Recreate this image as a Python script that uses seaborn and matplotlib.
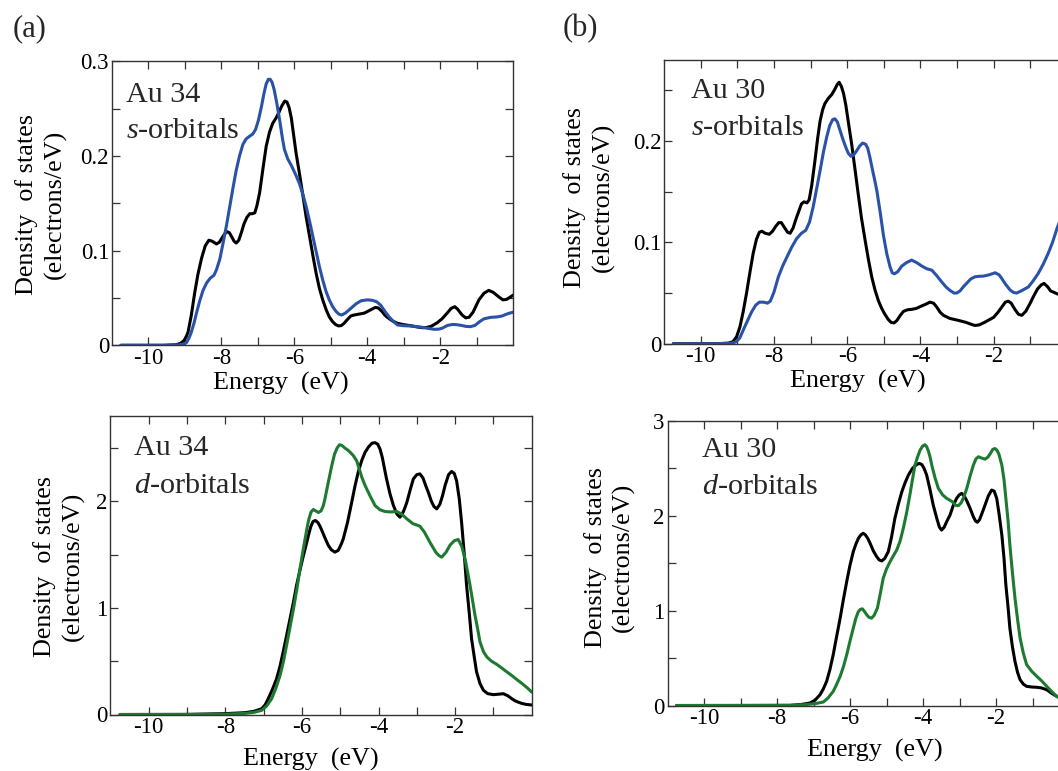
import matplotlib
matplotlib.use("Agg")
import matplotlib.pyplot as plt
import seaborn as sns

# Each series is a list of (energy in eV, density of states in electrons/eV)

# ---- Au 34, s-orbitals ----
au34_s_black = [
    (-10.75, 0), (-9.6, 0), (-9.25, 0.0005), (-9.12, 0.002), (-9.02, 0.005), (-8.95, 0.010), (-8.91, 0.014),
    (-8.82, 0.032), (-8.73, 0.055), (-8.64, 0.075), (-8.54, 0.092), (-8.44, 0.105), (-8.34, 0.111),
    (-8.25, 0.110), (-8.13, 0.107), (-8.05, 0.109), (-7.97, 0.114), (-7.90, 0.118), (-7.84, 0.120),
    (-7.78, 0.119), (-7.72, 0.115), (-7.65, 0.110), (-7.59, 0.108), (-7.52, 0.111), (-7.45, 0.119),
    (-7.38, 0.128), (-7.30, 0.135), (-7.22, 0.139), (-7.15, 0.139), (-7.08, 0.140), (-7.02, 0.148),
    (-6.95, 0.161), (-6.86, 0.186), (-6.77, 0.210), (-6.68, 0.225), (-6.59, 0.2345), (-6.50, 0.240),
    (-6.42, 0.246), (-6.34, 0.253), (-6.26, 0.258), (-6.20, 0.257), (-6.14, 0.251), (-6.08, 0.240),
    (-6.02, 0.223), (-5.95, 0.203), (-5.86, 0.182), (-5.77, 0.160), (-5.68, 0.137), (-5.58, 0.115),
    (-5.49, 0.095), (-5.40, 0.076), (-5.31, 0.060), (-5.22, 0.048), (-5.13, 0.038), (-5.04, 0.030),
    (-4.95, 0.025), (-4.87, 0.022), (-4.79, 0.0205), (-4.72, 0.0207), (-4.64, 0.023), (-4.55, 0.027),
    (-4.45, 0.031), (-4.36, 0.032), (-4.22, 0.033), (-4.08, 0.034), (-3.98, 0.036), (-3.88, 0.038),
    (-3.78, 0.040), (-3.70, 0.0395), (-3.60, 0.036), (-3.52, 0.032), (-3.45, 0.0296), (-3.32, 0.026),
    (-3.17, 0.0232), (-3.00, 0.0218), (-2.81, 0.0207), (-2.65, 0.0195), (-2.49, 0.0186), (-2.38, 0.0188),
    (-2.25, 0.020), (-2.08, 0.0239), (-1.95, 0.028), (-1.81, 0.034), (-1.70, 0.039), (-1.60, 0.0408),
    (-1.52, 0.038), (-1.40, 0.032), (-1.30, 0.029), (-1.21, 0.0296), (-1.10, 0.035), (-0.94, 0.048),
    (-0.80, 0.055), (-0.67, 0.058), (-0.55, 0.056), (-0.39, 0.051), (-0.28, 0.048), (-0.18, 0.0485),
    (-0.08, 0.051), (0.0, 0.053),
]
au34_s_blue = [
    (-10.75, 0), (-9.6, 0), (-9.15, 0.0005), (-9.03, 0.0015), (-8.95, 0.003), (-8.88, 0.008), (-8.82, 0.014),
    (-8.75, 0.023), (-8.68, 0.034), (-8.59, 0.047), (-8.50, 0.058), (-8.40, 0.066), (-8.30, 0.071),
    (-8.20, 0.074), (-8.13, 0.080), (-8.04, 0.091), (-7.95, 0.108), (-7.86, 0.126), (-7.77, 0.146),
    (-7.68, 0.166), (-7.59, 0.185), (-7.50, 0.200), (-7.41, 0.212), (-7.32, 0.218), (-7.22, 0.221),
    (-7.14, 0.223), (-7.06, 0.228), (-6.98, 0.238), (-6.90, 0.252), (-6.83, 0.266), (-6.77, 0.276),
    (-6.71, 0.281), (-6.66, 0.281), (-6.61, 0.278), (-6.55, 0.270), (-6.48, 0.256), (-6.40, 0.238),
    (-6.33, 0.220), (-6.27, 0.207), (-6.18, 0.197), (-6.08, 0.190), (-5.97, 0.181), (-5.86, 0.171),
    (-5.76, 0.159), (-5.67, 0.146), (-5.58, 0.131), (-5.49, 0.115), (-5.40, 0.099), (-5.31, 0.083),
    (-5.22, 0.069), (-5.13, 0.057), (-5.04, 0.048), (-4.95, 0.041), (-4.86, 0.036), (-4.78, 0.033),
    (-4.70, 0.032), (-4.60, 0.034), (-4.45, 0.039), (-4.30, 0.044), (-4.17, 0.047), (-4.00, 0.048),
    (-3.86, 0.0475), (-3.74, 0.046), (-3.63, 0.0423), (-3.50, 0.035), (-3.40, 0.030), (-3.28, 0.025),
    (-3.17, 0.0215), (-3.00, 0.0207), (-2.81, 0.0204), (-2.65, 0.0198), (-2.49, 0.0190), (-2.32, 0.0178),
    (-2.17, 0.0169), (-2.05, 0.017), (-1.95, 0.018), (-1.80, 0.021), (-1.67, 0.022), (-1.55, 0.0218),
    (-1.42, 0.021), (-1.30, 0.020), (-1.17, 0.0197), (-1.05, 0.021), (-0.92, 0.025), (-0.80, 0.028),
    (-0.62, 0.0295), (-0.44, 0.030), (-0.30, 0.031), (-0.21, 0.0325), (-0.10, 0.034), (0.0, 0.035),
]

# ---- Au 30, s-orbitals ----
au30_s_black = [
    (-10.75, 0), (-9.6, 0), (-9.25, 0.0005), (-9.12, 0.002), (-9.02, 0.007), (-8.93, 0.0167), (-8.84, 0.032),
    (-8.75, 0.050), (-8.66, 0.070), (-8.57, 0.089), (-8.48, 0.103), (-8.40, 0.110), (-8.33, 0.111),
    (-8.24, 0.109), (-8.13, 0.108), (-8.04, 0.111), (-7.95, 0.116), (-7.87, 0.1195), (-7.80, 0.1195),
    (-7.72, 0.115), (-7.63, 0.110), (-7.56, 0.109), (-7.48, 0.114), (-7.40, 0.123), (-7.32, 0.131),
    (-7.25, 0.138), (-7.18, 0.140), (-7.10, 0.139), (-7.04, 0.142), (-6.97, 0.156), (-6.88, 0.181),
    (-6.81, 0.202), (-6.74, 0.220), (-6.67, 0.231), (-6.61, 0.237), (-6.52, 0.242), (-6.42, 0.246),
    (-6.34, 0.251), (-6.27, 0.256), (-6.22, 0.258), (-6.16, 0.254), (-6.10, 0.247), (-6.04, 0.236),
    (-5.97, 0.219), (-5.88, 0.1975), (-5.79, 0.173), (-5.70, 0.148), (-5.61, 0.124), (-5.51, 0.102),
    (-5.42, 0.083), (-5.33, 0.066), (-5.24, 0.053), (-5.15, 0.0427), (-5.06, 0.035), (-4.97, 0.029),
    (-4.88, 0.024), (-4.80, 0.021), (-4.72, 0.0205), (-4.64, 0.023), (-4.55, 0.028), (-4.46, 0.032),
    (-4.35, 0.0335), (-4.22, 0.034), (-4.10, 0.035), (-3.98, 0.037), (-3.85, 0.039), (-3.74, 0.041),
    (-3.64, 0.040), (-3.55, 0.036), (-3.46, 0.031), (-3.37, 0.028), (-3.20, 0.025), (-2.96, 0.023),
    (-2.75, 0.021), (-2.60, 0.019), (-2.51, 0.018), (-2.40, 0.0185), (-2.25, 0.021), (-2.10, 0.024),
    (-2.00, 0.026), (-1.88, 0.031), (-1.78, 0.036), (-1.68, 0.041), (-1.60, 0.042), (-1.52, 0.040),
    (-1.42, 0.034), (-1.32, 0.029), (-1.23, 0.028), (-1.12, 0.032), (-1.00, 0.040), (-0.92, 0.046),
    (-0.80, 0.054), (-0.70, 0.058), (-0.62, 0.0595), (-0.52, 0.056), (-0.44, 0.052), (-0.37, 0.051),
    (-0.25, 0.049), (-0.12, 0.049), (0.0, 0.050),
]
au30_s_blue = [
    (-10.75, 0), (-9.6, 0), (-9.15, 0.0005), (-9.03, 0.002), (-8.93, 0.006), (-8.84, 0.0135), (-8.72, 0.023),
    (-8.61, 0.0315), (-8.50, 0.038), (-8.40, 0.041), (-8.28, 0.041), (-8.18, 0.040), (-8.10, 0.042),
    (-8.00, 0.051), (-7.88, 0.066), (-7.76, 0.077), (-7.65, 0.0853), (-7.52, 0.095), (-7.38, 0.1038),
    (-7.25, 0.109), (-7.13, 0.112), (-7.03, 0.120), (-6.93, 0.135), (-6.84, 0.152), (-6.74, 0.171),
    (-6.65, 0.189), (-6.56, 0.204), (-6.48, 0.215), (-6.40, 0.221), (-6.34, 0.222), (-6.27, 0.219),
    (-6.20, 0.211), (-6.12, 0.202), (-6.04, 0.194), (-5.97, 0.188), (-5.90, 0.185), (-5.83, 0.186),
    (-5.75, 0.190), (-5.66, 0.195), (-5.58, 0.198), (-5.50, 0.197), (-5.44, 0.193), (-5.38, 0.184),
    (-5.30, 0.170), (-5.24, 0.160), (-5.19, 0.151), (-5.10, 0.130), (-5.01, 0.107), (-4.92, 0.089),
    (-4.83, 0.076), (-4.77, 0.070), (-4.71, 0.069), (-4.62, 0.071), (-4.51, 0.0766), (-4.38, 0.080),
    (-4.24, 0.0825), (-4.10, 0.080), (-3.96, 0.0766), (-3.83, 0.074), (-3.69, 0.0726), (-3.55, 0.067),
    (-3.42, 0.061), (-3.30, 0.056), (-3.19, 0.0525), (-3.08, 0.050), (-3.01, 0.050), (-2.92, 0.052),
    (-2.83, 0.056), (-2.74, 0.0595), (-2.62, 0.064), (-2.51, 0.066), (-2.40, 0.0665), (-2.28, 0.0667),
    (-2.12, 0.068), (-1.96, 0.070), (-1.85, 0.068), (-1.77, 0.064), (-1.69, 0.0595), (-1.55, 0.053),
    (-1.45, 0.0505), (-1.37, 0.050), (-1.25, 0.052), (-1.15, 0.054), (-1.05, 0.056), (-0.92, 0.062),
    (-0.78, 0.0694), (-0.65, 0.078), (-0.51, 0.089), (-0.39, 0.100), (-0.27, 0.1135), (-0.13, 0.127),
    (0.0, 0.140),
]

# ---- Au 34, d-orbitals ----
au34_d_black = [
    (-10.75, 0), (-9.0, 0.001), (-8.01, 0.008), (-7.49, 0.017), (-7.25, 0.030), (-7.05, 0.054), (-6.96, 0.090),
    (-6.88, 0.148), (-6.77, 0.235), (-6.66, 0.336), (-6.57, 0.455), (-6.49, 0.586), (-6.40, 0.740),
    (-6.31, 0.898), (-6.22, 1.055), (-6.14, 1.211), (-6.05, 1.355), (-5.96, 1.492), (-5.89, 1.59),
    (-5.83, 1.679), (-5.77, 1.76), (-5.71, 1.81), (-5.65, 1.82), (-5.58, 1.80), (-5.52, 1.76), (-5.46, 1.71),
    (-5.39, 1.65), (-5.31, 1.586), (-5.23, 1.545), (-5.14, 1.523), (-5.05, 1.54), (-4.97, 1.60),
    (-4.92, 1.648), (-4.81, 1.80), (-4.70, 1.99), (-4.61, 2.15), (-4.53, 2.273), (-4.44, 2.38),
    (-4.35, 2.46), (-4.26, 2.51), (-4.17, 2.545), (-4.09, 2.55), (-4.02, 2.535), (-3.96, 2.49),
    (-3.90, 2.41), (-3.84, 2.30), (-3.79, 2.21), (-3.70, 2.07), (-3.61, 1.96), (-3.52, 1.88),
    (-3.44, 1.851), (-3.38, 1.88), (-3.32, 1.93), (-3.26, 1.99), (-3.17, 2.11), (-3.09, 2.21),
    (-3.00, 2.25), (-2.92, 2.257), (-2.84, 2.22), (-2.77, 2.15), (-2.70, 2.085), (-2.62, 2.00),
    (-2.55, 1.95), (-2.48, 1.929), (-2.40, 1.97), (-2.33, 2.05), (-2.26, 2.15), (-2.17, 2.25),
    (-2.09, 2.28), (-2.02, 2.26), (-1.96, 2.19), (-1.89, 2.02), (-1.83, 1.80), (-1.76, 1.50),
    (-1.70, 1.211), (-1.63, 0.95), (-1.57, 0.71), (-1.50, 0.54), (-1.44, 0.40), (-1.35, 0.29),
    (-1.26, 0.227), (-1.15, 0.196), (-1.00, 0.186), (-0.88, 0.19), (-0.74, 0.195), (-0.62, 0.175),
    (-0.52, 0.148), (-0.44, 0.130), (-0.36, 0.117), (-0.25, 0.103), (-0.15, 0.095), (0.0, 0.089),
]
au34_d_green = [
    (-10.75, 0), (-9.0, 0.0005), (-8.01, 0.003), (-7.49, 0.010), (-7.25, 0.020), (-7.05, 0.039),
    (-6.92, 0.080), (-6.79, 0.148), (-6.68, 0.245), (-6.57, 0.367), (-6.48, 0.50), (-6.40, 0.649),
    (-6.31, 0.82), (-6.22, 0.99), (-6.13, 1.18), (-6.05, 1.366), (-5.96, 1.56), (-5.87, 1.741),
    (-5.82, 1.83), (-5.76, 1.90), (-5.70, 1.923), (-5.64, 1.91), (-5.57, 1.895), (-5.50, 1.91),
    (-5.44, 1.96), (-5.40, 2.02), (-5.31, 2.18), (-5.22, 2.335), (-5.15, 2.44), (-5.08, 2.50),
    (-5.02, 2.53), (-4.96, 2.525), (-4.88, 2.50), (-4.80, 2.48), (-4.74, 2.46), (-4.66, 2.43),
    (-4.57, 2.38), (-4.50, 2.30), (-4.43, 2.22), (-4.35, 2.148), (-4.22, 2.05), (-4.09, 1.96),
    (-3.96, 1.92), (-3.83, 1.904), (-3.68, 1.90), (-3.52, 1.904), (-3.40, 1.88), (-3.26, 1.835),
    (-3.10, 1.79), (-2.92, 1.767), (-2.80, 1.71), (-2.66, 1.617), (-2.50, 1.52), (-2.42, 1.49),
    (-2.35, 1.476), (-2.24, 1.52), (-2.13, 1.59), (-2.02, 1.63), (-1.92, 1.642), (-1.83, 1.58),
    (-1.74, 1.46), (-1.67, 1.33), (-1.61, 1.211), (-1.54, 1.06), (-1.48, 0.93), (-1.41, 0.80),
    (-1.35, 0.68), (-1.26, 0.59), (-1.17, 0.539), (-1.05, 0.50), (-0.91, 0.47), (-0.78, 0.435),
    (-0.65, 0.40), (-0.50, 0.36), (-0.36, 0.32), (-0.25, 0.29), (-0.15, 0.26), (-0.07, 0.235), (0.0, 0.21),
]

# ---- Au 30, d-orbitals ----
au30_d_black = [
    (-10.75, 0), (-9.0, 0.0005), (-7.64, 0.002), (-7.35, 0.010), (-7.10, 0.026), (-6.96, 0.055), (-6.82, 0.114),
    (-6.73, 0.175), (-6.64, 0.255), (-6.55, 0.38), (-6.46, 0.535), (-6.37, 0.72), (-6.27, 0.921),
    (-6.18, 1.12), (-6.09, 1.307), (-6.00, 1.48), (-5.91, 1.623), (-5.84, 1.70), (-5.77, 1.763),
    (-5.70, 1.80), (-5.64, 1.816), (-5.58, 1.80), (-5.51, 1.76), (-5.45, 1.711), (-5.36, 1.63),
    (-5.27, 1.57), (-5.20, 1.535), (-5.13, 1.524), (-5.05, 1.55), (-4.95, 1.623), (-4.86, 1.78),
    (-4.77, 1.974), (-4.67, 2.13), (-4.58, 2.254), (-4.49, 2.35), (-4.40, 2.43), (-4.29, 2.50),
    (-4.17, 2.542), (-4.10, 2.553), (-4.03, 2.54), (-3.97, 2.50), (-3.90, 2.43), (-3.81, 2.28),
    (-3.72, 2.114), (-3.62, 1.97), (-3.55, 1.88), (-3.49, 1.85), (-3.42, 1.88), (-3.35, 1.94),
    (-3.26, 2.008), (-3.17, 2.11), (-3.08, 2.184), (-3.01, 2.22), (-2.94, 2.237), (-2.87, 2.21),
    (-2.79, 2.15), (-2.71, 2.079), (-2.62, 1.99), (-2.56, 1.945), (-2.51, 1.932), (-2.45, 1.96),
    (-2.38, 2.03), (-2.30, 2.114), (-2.21, 2.21), (-2.12, 2.272), (-2.05, 2.26), (-1.98, 2.184),
    (-1.92, 2.03), (-1.84, 1.798), (-1.78, 1.55), (-1.73, 1.272), (-1.67, 1.04), (-1.62, 0.816),
    (-1.55, 0.62), (-1.48, 0.465), (-1.41, 0.35), (-1.34, 0.272), (-1.25, 0.225), (-1.16, 0.202),
    (-1.02, 0.195), (-0.88, 0.192), (-0.75, 0.185), (-0.61, 0.166), (-0.48, 0.13), (-0.34, 0.097),
    (-0.20, 0.072), (-0.10, 0.065), (0.0, 0.06),
]
au30_d_green = [
    (-10.75, 0), (-9.0, 0.0005), (-7.64, 0.001), (-7.20, 0.010), (-6.95, 0.020), (-6.73, 0.037), (-6.60, 0.08),
    (-6.46, 0.149), (-6.37, 0.22), (-6.27, 0.307), (-6.18, 0.41), (-6.09, 0.535), (-6.00, 0.68),
    (-5.91, 0.816), (-5.84, 0.92), (-5.77, 0.991), (-5.71, 1.015), (-5.66, 1.019), (-5.60, 0.99),
    (-5.54, 0.956), (-5.48, 0.93), (-5.41, 0.921), (-5.34, 0.95), (-5.25, 1.026), (-5.17, 1.18),
    (-5.09, 1.342), (-5.00, 1.44), (-4.90, 1.518), (-4.81, 1.58), (-4.72, 1.64), (-4.63, 1.73),
    (-4.54, 1.868), (-4.45, 2.03), (-4.36, 2.219), (-4.29, 2.38), (-4.22, 2.535), (-4.15, 2.62),
    (-4.08, 2.693), (-4.01, 2.735), (-3.95, 2.75), (-3.90, 2.73), (-3.85, 2.68), (-3.80, 2.61),
    (-3.76, 2.535), (-3.67, 2.40), (-3.58, 2.29), (-3.46, 2.22), (-3.35, 2.184), (-3.20, 2.15),
    (-3.10, 2.11), (-3.03, 2.107), (-2.95, 2.14), (-2.88, 2.20), (-2.80, 2.29), (-2.71, 2.42),
    (-2.62, 2.535), (-2.55, 2.60), (-2.48, 2.623), (-2.40, 2.61), (-2.30, 2.598), (-2.22, 2.62),
    (-2.15, 2.66), (-2.09, 2.70), (-2.03, 2.71), (-1.97, 2.69), (-1.92, 2.65), (-1.84, 2.535),
    (-1.78, 2.38), (-1.73, 2.184), (-1.67, 1.95), (-1.62, 1.693), (-1.55, 1.40), (-1.48, 1.132),
    (-1.41, 0.91), (-1.34, 0.711), (-1.25, 0.55), (-1.16, 0.43), (-1.02, 0.36), (-0.88, 0.307),
    (-0.75, 0.26), (-0.61, 0.202), (-0.48, 0.15), (-0.34, 0.097), (-0.20, 0.06), (-0.10, 0.045), (0.0, 0.03),
]

x_major = [-10, -8, -6, -4, -2]
x_minor = [-9, -7, -5, -3, -1]
x_labels = ["-10", "-8", "-6", "-4", "-2"]

BLACK = "#000000"
BLUE = "#2a52a6"
GREEN = "#1d7a30"

sns.set_theme(style="ticks")
plt.rcParams["font.family"] = ["Liberation Serif", "DejaVu Serif"]
plt.rcParams["mathtext.fontset"] = "custom"
plt.rcParams["mathtext.rm"] = "Liberation Serif"
plt.rcParams["mathtext.it"] = "Liberation Serif:italic"
plt.rcParams["axes.unicode_minus"] = False

fig = plt.figure(figsize=(10.58, 7.71), dpi=100)
fig.patch.set_facecolor("white")

W, H = 1058.0, 771.0


def axes_px(left, top, right, bottom):
    return fig.add_axes([left / W, 1 - bottom / H, (right - left) / W, (bottom - top) / H])


panels = [
    dict(rect=(111.8, 61.3, 513.2, 345.3), ymax=0.3, ymaj=[0, 0.1, 0.2, 0.3], ylab=["0", "0.1", "0.2", "0.3"],
         ymin=[0.05, 0.15, 0.25], curves=[(au34_s_black, BLACK), (au34_s_blue, BLUE)],
         name="Au 34", orb="$s$-orbitals", txt=(0.0354, 0.858, 0.729),
         ylc=(-0.177, 0.4975), xlc=(0.42, -0.156)),
    dict(rect=(664.2, 60.0, 1066.8, 343.7), ymax=0.28, ymaj=[0, 0.1, 0.2], ylab=["0", "0.1", "0.2"],
         ymin=[0.05, 0.15, 0.25], curves=[(au30_s_black, BLACK), (au30_s_blue, BLUE)],
         name="Au 30", orb="$s$-orbitals", txt=(0.0673, 0.867, 0.736),
         ylc=(-0.1875, 0.515), xlc=(0.481, -0.156)),
    dict(rect=(110.4, 416.0, 531.7, 714.5), ymax=2.8, ymaj=[0, 1, 2], ylab=["0", "1", "2"],
         ymin=[0.5, 1.5, 2.5], curves=[(au34_d_black, BLACK), (au34_d_green, GREEN)],
         name="Au 34", orb="$d$-orbitals", txt=(0.0555, 0.869, 0.741),
         ylc=(-0.1222, 0.495), xlc=(0.475, -0.171)),
    dict(rect=(667.5, 421.0, 1069.0, 705.5), ymax=3.0, ymaj=[0, 1, 2, 3], ylab=["0", "1", "2", "3"],
         ymin=[0.5, 1.5, 2.5], curves=[(au30_d_black, BLACK), (au30_d_green, GREEN)],
         name="Au 30", orb="$d$-orbitals", txt=(0.0859, 0.8745, 0.743),
         ylc=(-0.145, 0.520), xlc=(0.516, -0.181)),
]

for p in panels:
    ax = axes_px(*p["rect"])
    ax.set_facecolor("white")
    for series, c in p["curves"]:
        energy = [e for e, _ in series]
        dos = [v for _, v in series]
        sns.lineplot(x=energy, y=dos, ax=ax, color=c, linewidth=2.2, estimator=None, sort=False,
                     solid_joinstyle="round", solid_capstyle="round")
    ax.set_xlim(-11, 0)
    ax.set_ylim(0, p["ymax"])
    ax.set_xticks(x_major)
    ax.set_xticklabels(x_labels)
    ax.set_xticks(x_minor, minor=True)
    ax.set_yticks(p["ymaj"])
    ax.set_yticklabels(p["ylab"])
    ax.set_yticks(p["ymin"], minor=True)
    ax.tick_params(which="both", direction="in", top=True, right=True, length=6,
                   width=0.9, color="#333333", labelsize=16.5, labelcolor="black")
    ax.tick_params(axis="x", which="both", pad=2.0)
    ax.tick_params(axis="y", which="both", pad=2.0)
    for s in ax.spines.values():
        s.set_linewidth(1.0)
        s.set_color("#333333")
    ax.set_ylabel("Density  of states\n(electrons/eV)", fontsize=18.8, va="center",
                  linespacing=1.3, color="black")
    ax.yaxis.set_label_coords(*p["ylc"])
    ax.set_xlabel("Energy  (eV)", fontsize=18.8, va="baseline", color="black")
    ax.xaxis.set_label_coords(*p["xlc"])
    tx, ty1, ty2 = p["txt"]
    ax.text(tx, ty1, p["name"], transform=ax.transAxes, fontsize=21.7, va="baseline", ha="left")
    ax.text(tx, ty2, p["orb"], transform=ax.transAxes, fontsize=21.7, va="baseline", ha="left")

fig.text(29.4 / W, 1 - 29.0 / H, "(a)", fontsize=22, ha="center", va="center")
fig.text(580.6 / W, 1 - 29.0 / H, "(b)", fontsize=22, ha="center", va="center")

fig.savefig("out.png", dpi=100, facecolor="white")
